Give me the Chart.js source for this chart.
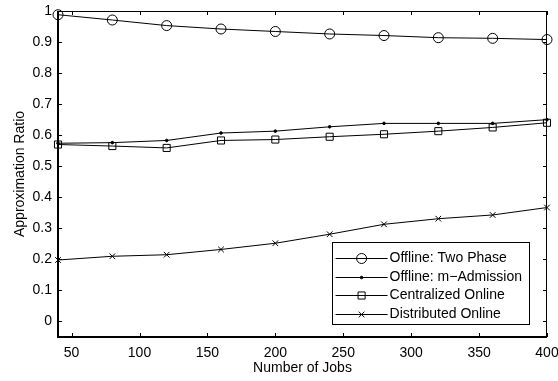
<!DOCTYPE html>
<html>
<head>
<meta charset="utf-8">
<title>Approximation Ratio</title>
<script src="https://cdn.jsdelivr.net/npm/chart.js@4.4.1/dist/chart.umd.min.js"></script>
<style>
  html, body { margin: 0; padding: 0; background: #fff; }
</style>
</head>
<body>
<canvas id="ratioChart" width="558" height="381"></canvas>
<script>
// x values: number of jobs
var jobCounts = [40, 80, 120, 160, 200, 240, 280, 320, 360, 400];

// approximation ratio per algorithm
var twoPhase    = [0.988, 0.971, 0.953, 0.942, 0.934, 0.926, 0.921, 0.914, 0.912, 0.908];
var mAdmission  = [0.574, 0.576, 0.583, 0.607, 0.613, 0.627, 0.638, 0.638, 0.638, 0.650];
var centralized = [0.570, 0.565, 0.559, 0.583, 0.586, 0.595, 0.603, 0.613, 0.625, 0.640];
var distributed = [0.198, 0.210, 0.215, 0.232, 0.252, 0.281, 0.313, 0.331, 0.343, 0.367];

var seriesNames = ["Offline: Two Phase", "Offline: m\u2212Admission", "Centralized Online", "Distributed Online"];

// tick labels
var xTicks = [50, 100, 150, 200, 250, 300, 350, 400];
var yTicks = [0, 0.1, 0.2, 0.3, 0.4, 0.5, 0.6, 0.7, 0.8, 0.9, 1];

var FONT = '"Liberation Sans", Arial, Helvetica, sans-serif';

function toPoints(ys){
    return ys.map((y, i) => ({x: jobCounts[i], y: y}));
}

function lineSet(label, ys, style, radius, fill){
    return {
        label: label,
        data: toPoints(ys),
        borderColor: '#000',
        borderWidth: 1,
        pointStyle: style,
        pointRadius: radius,
        pointBorderColor: '#000',
        pointBorderWidth: 1,
        pointBackgroundColor: fill,
        tension: 0,
        clip: false
    };
}

// keep the plot box fixed: labels may hang over the edges
function noEdgePadding(s){
    s.paddingLeft = 0; s.paddingRight = 0;
    s.paddingTop = 0; s.paddingBottom = 0;
}

// box around the axes with inward ticks on all four sides
var boxPlugin = {
    id: 'boxFrame',
    beforeDatasetsDraw(chart){
        var ctx = chart.ctx, a = chart.chartArea;
        var xs = chart.scales.x, ys = chart.scales.y;
        var tl = 4;
        ctx.save();
        ctx.strokeStyle = '#000';
        ctx.lineWidth = 1;
        ctx.beginPath();
        xTicks.forEach(v => {
            var px = Math.round(xs.getPixelForValue(v)) + 0.5;
            ctx.moveTo(px, a.bottom); ctx.lineTo(px, a.bottom - tl);
            ctx.moveTo(px, a.top); ctx.lineTo(px, a.top + tl);
        });
        yTicks.forEach(v => {
            var py = Math.round(ys.getPixelForValue(v)) + 0.5;
            ctx.moveTo(a.left, py); ctx.lineTo(a.left + tl, py);
            ctx.moveTo(a.right, py); ctx.lineTo(a.right - tl, py);
        });
        // top and right edges
        ctx.moveTo(a.left, a.top + 0.5); ctx.lineTo(a.right, a.top + 0.5);
        ctx.moveTo(a.right - 0.5, a.top); ctx.lineTo(a.right - 0.5, a.bottom);
        ctx.stroke();
        // heavier left and bottom axes
        ctx.lineWidth = 2;
        ctx.beginPath();
        ctx.moveTo(a.left, a.top); ctx.lineTo(a.left, a.bottom);
        ctx.lineTo(a.right, a.bottom);
        ctx.stroke();
        ctx.restore();
    },
    afterDraw(chart){
        // legend box in the lower right corner
        var ctx = chart.ctx, a = chart.chartArea;
        ctx.save();
        ctx.font = '14px ' + FONT;
        var tw = 0;
        seriesNames.forEach(s => { tw = Math.max(tw, ctx.measureText(s).width); });
        var right = a.right - 18, bottom = a.bottom - 13;
        var left = right - tw - 65;
        var rowH = 18.7;
        var top = bottom - 82;
        ctx.fillStyle = '#fff';
        ctx.fillRect(left, top, right - left, bottom - top);
        ctx.strokeStyle = '#000';
        ctx.lineWidth = 1;
        ctx.strokeRect(Math.round(left) + 0.5, Math.round(top) + 0.5, Math.round(right - left), Math.round(bottom - top));
        chart.data.datasets.forEach((ds, i) => {
            var cy = Math.round(top + 16 + i * rowH) + 0.5;
            ctx.strokeStyle = '#000';
            ctx.lineWidth = 1;
            ctx.beginPath();
            ctx.moveTo(left + 4, cy); ctx.lineTo(left + 56, cy);
            ctx.stroke();
            ctx.fillStyle = ds.pointBackgroundColor;
            Chart.helpers.drawPoint(ctx, {
                pointStyle: ds.pointStyle,
                radius: ds.pointRadius,
                borderWidth: 1,
                rotation: 0
            }, left + 30, cy);
            ctx.fillStyle = '#000';
            ctx.textBaseline = 'middle';
            ctx.textAlign = 'left';
            ctx.fillText(seriesNames[i], left + 58, cy);
        });
        ctx.restore();
    }
};

new Chart(document.getElementById('ratioChart'), {
    type: 'line',
    data: {
        datasets: [
            lineSet(seriesNames[0], twoPhase, 'circle', 5, 'rgba(0,0,0,0)'),
            lineSet(seriesNames[1], mAdmission, 'circle', 1.3, '#000'),
            lineSet(seriesNames[2], centralized, 'rect', 5, 'rgba(0,0,0,0)'),
            lineSet(seriesNames[3], distributed, 'crossRot', 4, 'rgba(0,0,0,0)')
        ]
    },
    options: {
        responsive: false,
        animation: false,
        devicePixelRatio: 1,
        layout: { padding: { top: 11, right: 11, left: 0, bottom: 0 } },
        plugins: {
            legend: { display: false },
            tooltip: { enabled: false }
        },
        scales: {
            x: {
                type: 'linear',
                min: 40,
                max: 400,
                afterBuildTicks: s => { s.ticks = xTicks.map(v => ({value: v})); },
                afterFit: s => { s.height = 44; noEdgePadding(s); },
                grid: { display: false, drawTicks: false },
                border: { display: false },
                ticks: { color: '#000', padding: 8, maxRotation: 0, font: { family: FONT, size: 14 } },
                title: { display: true, text: 'Number of Jobs', color: '#000', padding: { top: 0, bottom: 4 }, font: { family: FONT, size: 14 } }
            },
            y: {
                type: 'linear',
                min: -0.05,
                max: 1,
                afterBuildTicks: s => { s.ticks = yTicks.map(v => ({value: v})); },
                afterFit: s => { s.width = 58; noEdgePadding(s); },
                grid: { display: false, drawTicks: false },
                border: { display: false },
                ticks: {
                    color: '#000',
                    padding: 6,
                    font: { family: FONT, size: 14 },
                    callback: v => (v === 0 || v === 1) ? String(v) : v.toFixed(1)
                },
                title: { display: true, text: 'Approximation Ratio', color: '#000', padding: { top: 12, bottom: 0 }, font: { family: FONT, size: 14 } }
            }
        }
    },
    plugins: [boxPlugin]
});
</script>
</body>
</html>
